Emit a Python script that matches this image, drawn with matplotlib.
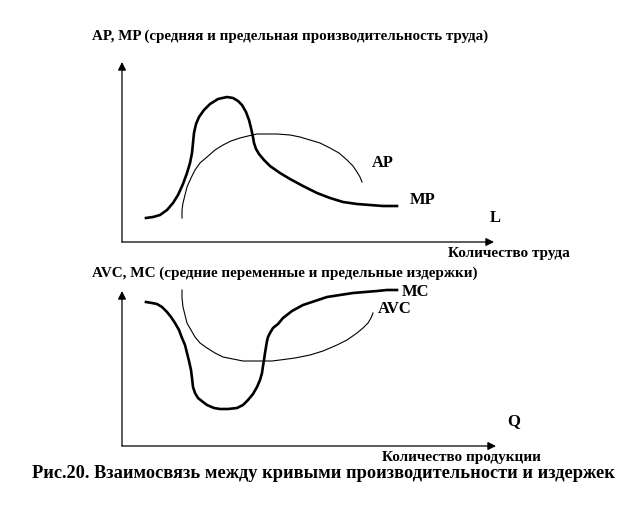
import matplotlib
matplotlib.use('Agg')
import matplotlib.pyplot as plt

# curves, in pixel coordinates of the 628x520 image
mp_x = [146, 153, 160, 167, 173, 178, 183, 187, 190, 192, 193, 194, 196, 199, 204, 210,
        218, 227, 233, 238, 242, 246, 249, 251, 253, 254, 256, 259, 264, 270, 280, 290,
        303, 317, 330, 343, 357, 370, 383, 397]
mp_y = [218, 217, 215, 210, 203, 195, 184, 173, 163, 153, 143, 133, 124, 117, 110, 104,
        99, 97, 98, 101, 105, 112, 120, 128, 137, 143, 149, 154, 160, 166, 173, 179,
        186, 193, 198, 202, 204, 205, 206, 206]

ap_x = [182, 182, 183, 185, 187, 191, 195, 200, 207, 215, 223, 231, 240, 248, 257, 267,
        277, 290, 300, 310, 320, 330, 339, 347, 353, 357, 360, 362]
ap_y = [218, 210, 203, 195, 187, 178, 170, 163, 157, 150, 145, 141, 138, 136, 134, 134,
        134, 135, 137, 140, 143, 148, 153, 160, 166, 172, 177, 182]

mc_x = [146, 152, 157, 162, 167, 171, 175, 179, 182, 185, 187, 189, 191, 192, 193, 195,
        198, 203, 207, 214, 220, 228, 237, 243, 248, 253, 257, 260, 262, 263, 264, 265,
        266, 267, 268, 270, 273, 278, 283, 292, 303, 315, 327, 340, 353, 365, 377, 387, 397]
mc_y = [302, 303, 304, 307, 312, 317, 323, 330, 338, 345, 353, 361, 370, 378, 387, 393,
        398, 402, 405, 408, 409, 409, 408, 405, 400, 394, 387, 380, 373, 366, 360, 353,
        347, 341, 337, 333, 328, 324, 318, 311, 305, 301, 297, 295, 293, 292, 291, 290, 290]

avc_x = [182, 182, 183, 185, 187, 191, 195, 200, 207, 215, 223, 233, 243, 253, 263, 272,
         280, 295, 310, 323, 337, 347, 357, 363, 368, 371, 373]
avc_y = [290, 298, 307, 315, 323, 330, 337, 343, 348, 353, 357, 359, 361, 361, 361, 361,
         360, 358, 355, 351, 345, 340, 333, 328, 323, 318, 313]

top_title = "AP, MP (средняя и предельная производительность труда)"
bot_title = "AVC, MC (средние переменные и предельные издержки)"
top_xlabel = "Количество труда"
bot_xlabel = "Количество продукции"
caption = "Рис.20. Взаимосвязь между кривыми производительности и издержек"

fig = plt.figure(figsize=(6.28, 5.2), dpi=100)
ax = fig.add_axes([0, 0, 1, 1])
ax.set_xlim(0, 628)
ax.set_ylim(520, 0)
ax.axis('off')

font = dict(family='Liberation Serif', weight='bold', color='black')
arrow = dict(arrowstyle='-|>', color='black', lw=0.9, mutation_scale=12,
             shrinkA=0, shrinkB=0)

# axes of the two panels
for ox, oy, ty, tx in [(122, 242, 62, 494), (122, 446, 291, 496)]:
    ax.annotate('', xy=(ox, ty), xytext=(ox, oy), arrowprops=arrow)
    ax.annotate('', xy=(tx, oy), xytext=(ox, oy), arrowprops=arrow)

ax.plot(mp_x, mp_y, color='black', lw=1.9, solid_joinstyle='round')
ax.plot(ap_x, ap_y, color='black', lw=0.8, solid_joinstyle='round')
ax.plot(mc_x, mc_y, color='black', lw=1.9, solid_joinstyle='round')
ax.plot(avc_x, avc_y, color='black', lw=0.8, solid_joinstyle='round')

ax.text(92, 36, top_title, fontsize=10.8, va='center', ha='left', **font)
ax.text(92, 273, bot_title, fontsize=10.9, va='center', ha='left', **font)
ax.text(448, 253, top_xlabel, fontsize=11, va='center', ha='left', **font)
ax.text(382, 458, bot_xlabel, fontsize=11, va='center', ha='left', **font)
ax.text(372, 163, "AP", fontsize=11.8, va='center', ha='left', **font)
ax.text(410, 200, "MP", fontsize=12, va='center', ha='left', **font)
ax.text(490, 218, "L", fontsize=12, va='center', ha='left', **font)
ax.text(402, 292, "MC", fontsize=12, va='center', ha='left', **font)
ax.text(378, 309, "AVC", fontsize=12, va='center', ha='left', **font)
ax.text(507, 421, "Q", fontsize=12, va='center', ha='left', **font)
ax.text(323, 474, caption, fontsize=13.2, va='center', ha='center', **font)

fig.savefig('out.png', dpi=100)
